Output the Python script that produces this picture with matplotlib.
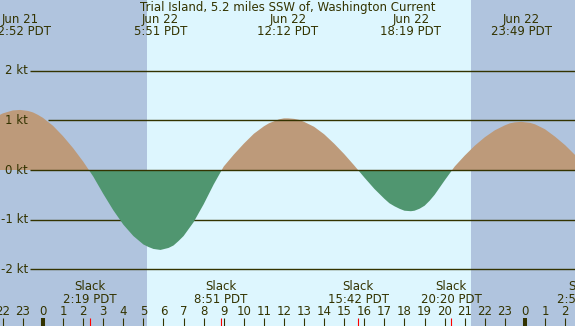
import numpy as np
import matplotlib
matplotlib.use('Agg')
import matplotlib.pyplot as plt

# Current speed (kt), hours from Jun 22 00:00 PDT
sample_hours = [-2.5, -2.0, -1.5, -1.133, -0.75, -0.5, -0.25, 0.0, 0.5, 1.0,
                1.5, 2.0, 2.5, 3.0, 3.5, 4.0, 4.5, 5.0, 5.25, 5.5,
                5.85, 6.25, 6.5, 6.75, 7.0, 7.5, 8.0, 8.5, 9.0, 9.5,
                10.0, 10.5, 11.0, 11.25, 11.5, 11.75, 12.0, 12.2, 12.5, 12.75,
                13.0, 13.5, 14.0, 14.5, 15.0, 15.5, 16.0, 16.5, 17.0, 17.25,
                17.5, 17.75, 18.0, 18.317, 18.5, 18.75, 19.0, 19.25, 19.5, 20.0,
                20.5, 21.0, 21.5, 22.0, 22.5, 23.0, 23.25, 23.5, 23.817, 24.25,
                24.5, 25.0, 25.5, 26.0, 26.5]
speed_kt = [1.04, 1.14, 1.20, 1.21, 1.19, 1.16, 1.11, 1.05, 0.89, 0.68,
            0.44, 0.17, -0.13, -0.48, -0.81, -1.10, -1.33, -1.50, -1.55, -1.59,
            -1.61, -1.57, -1.52, -1.43, -1.33, -1.05, -0.69, -0.29, 0.07, 0.31,
            0.53, 0.73, 0.88, 0.94, 0.98, 1.02, 1.04, 1.04, 1.03, 1.01,
            0.97, 0.87, 0.72, 0.53, 0.32, 0.09, -0.15, -0.38, -0.58, -0.67,
            -0.73, -0.78, -0.82, -0.83, -0.82, -0.78, -0.72, -0.62, -0.50, -0.21,
            0.07, 0.29, 0.49, 0.66, 0.80, 0.90, 0.94, 0.96, 0.97, 0.95,
            0.92, 0.82, 0.67, 0.50, 0.30]

# max flood / max ebb events
max_hours = [-1.133, 5.85, 12.2, 18.317, 23.817]
max_dates = ['Jun 21', 'Jun 22', 'Jun 22', 'Jun 22', 'Jun 22']
max_times = ['22:52 PDT', '5:51 PDT', '12:12 PDT', '18:19 PDT', '23:49 PDT']

# slack water events
slack_hours = [2.317, 8.85, 15.7, 20.333, 26.95]
slack_times = ['2:19 PDT', '8:51 PDT', '15:42 PDT', '20:20 PDT', '2:57 PDT']

sunrise = 5.16
sunset = 21.3
kt_levels = [2, 1, 0, -1, -2]
hour_ticks = list(range(-2, 27))

title = 'Trial Island, 5.2 miles SSW of, Washington Current'

night = '#b0c4de'
day = '#ddf6fe'
flood_col = '#bd9a7a'
ebb_col = '#509670'
ink = '#333300'

# pixel scale of the original: 20.083 px per hour, 49.65 px per kt
px_h = 20.083
px_kt = 49.65
x0 = -43 / px_h
x1 = (575 - 43) / px_h
ytop = 170 / px_kt
ybot = -(326 - 170) / px_kt


def ypix(p):
    return (170 - p) / px_kt


def xpix(p):
    return (p - 43) / px_h


plt.rcParams['font.family'] = 'DejaVu Sans'
fs = 8.5

fig = plt.figure(figsize=(5.75, 3.26), dpi=100)
ax = fig.add_axes([0, 0, 1, 1])
ax.set_xlim(x0, x1)
ax.set_ylim(ybot, ytop)
ax.axis('off')

ax.axvspan(x0, sunrise, color=night, lw=0, zorder=0)
ax.axvspan(sunrise, sunset, color=day, lw=0, zorder=0)
ax.axvspan(sunset, x1, color=night, lw=0, zorder=0)

hr = np.array(sample_hours)
sp = np.array(speed_kt)
ax.fill_between(hr, 0, sp, where=sp >= 0, interpolate=True,
                color=flood_col, lw=0, zorder=2)
ax.fill_between(hr, 0, sp, where=sp <= 0, interpolate=True,
                color=ebb_col, lw=0, zorder=4)

for lvl in kt_levels:
    start = xpix(48) if lvl == 1 else xpix(30)
    z = 3 if lvl < 0 else 5
    ax.hlines(lvl, start, x1, color=ink, lw=1.0, zorder=z)
    ax.text(xpix(28), lvl, f'{lvl} kt', ha='right', va='center',
            color=ink, fontsize=fs, zorder=6)

# hour ticks along the bottom
for h in hour_ticks:
    lw = 2.9 if h % 24 == 0 else 0.8
    ax.vlines(h, ybot, ypix(318), color=ink, lw=lw, zorder=6)
    ax.text(h, ypix(311.5), str(h % 24), ha='center', va='center',
            color=ink, fontsize=fs, zorder=6)

for h, t in zip(slack_hours, slack_times):
    ax.vlines(h, ybot, ypix(318), color='red', lw=0.8, zorder=7)
    ax.text(h, ypix(287), 'Slack', ha='center', va='center', color=ink, fontsize=fs, zorder=6)
    ax.text(h, ypix(299.5), t, ha='center', va='center', color=ink, fontsize=fs, zorder=6)

for h, d, t in zip(max_hours, max_dates, max_times):
    ax.text(h, ypix(20), d, ha='center', va='center', color=ink, fontsize=fs, zorder=6)
    ax.text(h, ypix(31.7), t, ha='center', va='center', color=ink, fontsize=fs, zorder=6)

fig.text(0.5, 1 - 8 / 326, title, ha='center', va='center', color=ink, fontsize=fs)

fig.savefig('out.png', dpi=100)
